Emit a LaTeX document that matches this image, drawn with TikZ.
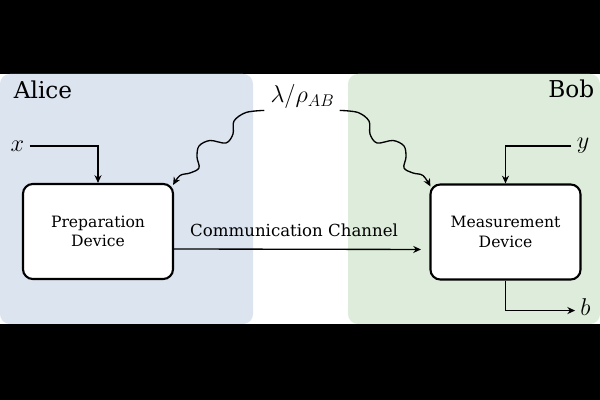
\documentclass[tikz,border=0pt]{standalone}
\usepackage{fontspec}
\setmainfont{DejaVu Serif}
\usepackage{xcolor}
\usetikzlibrary{positioning,arrows.meta,calc}
\definecolor{alicebg}{RGB}{220,228,240}
\definecolor{bobbg}{RGB}{222,237,219}
\tikzset{
  >=Stealth,
}

\begin{document}
\begin{tikzpicture}[
  x=0.025cm, y=0.025cm,
  ->, >={Stealth[length=5.5pt,width=5pt]}, line width=0.95pt,
  panel/.style={rounded corners=7pt},
  device/.style={draw, line width=1.5pt, rounded corners=7pt, fill=white,
    minimum width=3.75cm, minimum height=2.375cm, align=center,
    font=\fontsize{11.1}{13.7}\selectfont},
  party/.style={font=\fontsize{16.5}{18}\selectfont},
  var/.style={font=\fontsize{18}{20}\selectfont},
  chanlabel/.style={font=\fontsize{11.8}{14}\selectfont},
  wave/.style={->, smooth, tension=0.55}
]

\useasboundingbox (0,0) rectangle (600,400);
\fill[black] (0,0) rectangle (600,76);
\fill[black] (0,326) rectangle (600,400);

% the two labs
\fill[alicebg, panel] (0,76) rectangle (253,326);
\fill[bobbg, panel] (348,76) rectangle (600,326);
\node[party, anchor=base west] (alice) at (8.5,301) {Alice};
\node[party, anchor=base east] (bob) at (599.5,302) {Bob};

% devices
\node[device] (prep) at (98,168.5) {Preparation\\Device};
\node[device] (meas) at (505.5,168) {Measurement\\Device};

% inputs and output
\node[var] (x) at (17.5,254) {$x$};
\node[var] (y) at (583,254) {$y$};
\node[var, anchor=base] (b) at (585.5,84) {$b$};
\draw (x.east) -| (prep.north);
\draw (y.west) -| (meas.north);
\draw (meas.south) |- ($(b.west)+(0,-3)$);

% classical channel
\draw[shorten >=6pt] ($(prep.east)+(0,-17.5)$) -- node[chanlabel, above=5pt, pos=0.47] (chan) {Communication Channel} ($(meas.west)+(0,-17.5)$);

% shared resource
\node[var, anchor=base] (lam) at (302.5,297) {$\lambda/\rho_{AB}$};
\coordinate (lamL) at ($(lam.south west)+(-1,4)$);
\coordinate (lamR) at ($(lam.south east)+(0,4)$);
\coordinate (prepIn) at ($(prep.north east)+(-1,-2)$);
\coordinate (measIn) at ($(meas.north west)+(1,-3)$);
\draw[wave] plot coordinates {(lamL) (246,287.5) (234,279) (233,266)
  (226,257) (210,259.5) (199,254) (197,243) (199,232) (190,227)
  (180,224.5) (prepIn)};
\draw[wave] plot coordinates {(lamR) (358,287.5) (369,279) (370,266)
  (377,257) (393,259.5) (404,254) (406,243) (404,232) (413,227)
  (423,224.5) (measIn)};

\end{tikzpicture}
\end{document}
